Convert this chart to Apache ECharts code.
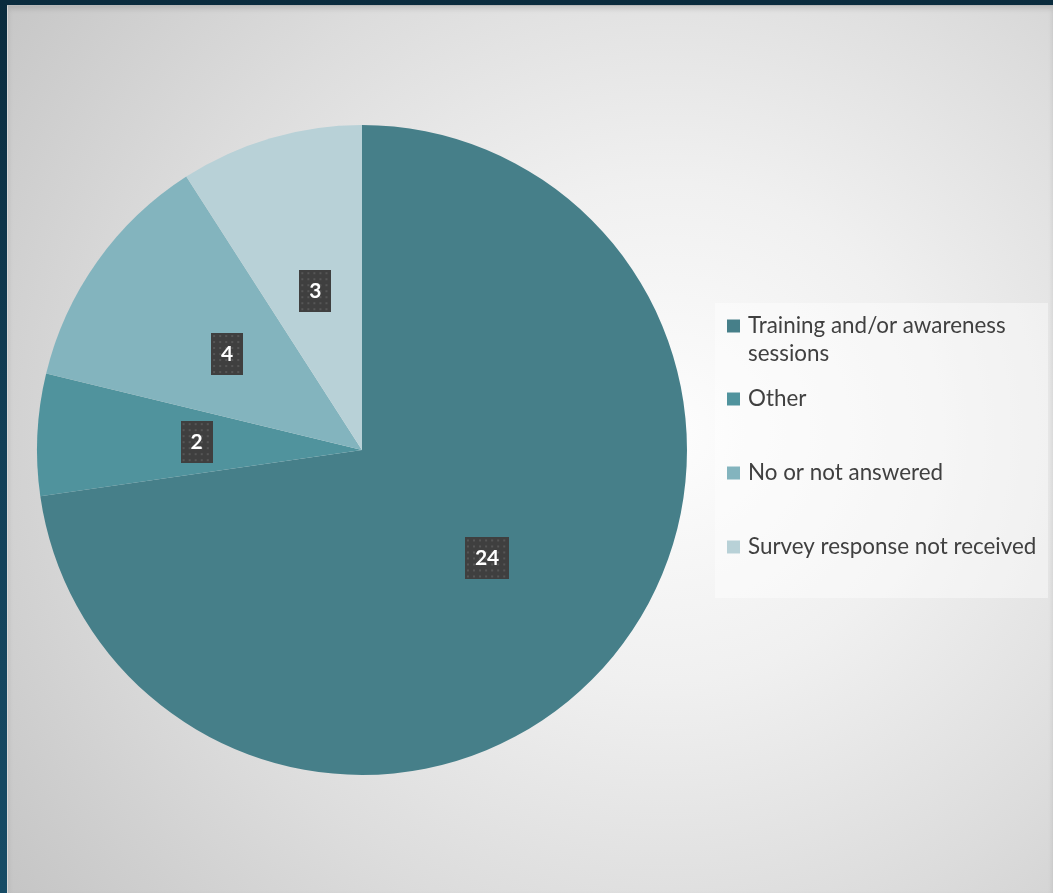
<!DOCTYPE html>
<html>
<head>
<meta charset="utf-8">
<script src="https://cdn.jsdelivr.net/npm/echarts@6/dist/echarts.min.js"></script>
<style>
  html, body { margin: 0; padding: 0; width: 1053px; height: 893px; overflow: hidden; }
  body { background: linear-gradient(to bottom, #0a2b3d 0%, #123f57 50%, #164b65 100%); }
  #chart {
    position: absolute; left: 7px; top: 5px; width: 1046px; height: 888px;
    box-sizing: border-box;
    border-left: 1px solid #d8d8d8; border-top: 1px solid #b8b8b8;
    background: radial-gradient(ellipse 820px 780px at 63% 48%, #fdfdfd 0%, #f0f0f0 32%, #dcdcdc 65%, #c5c5c5 100%);
    box-shadow: inset 0 3px 5px rgba(0,0,0,0.12);
  }
</style>
</head>
<body>
<div id="chart"></div>
<script>
// Responses by activity type
const categories = [
  'Training and/or awareness sessions',
  'Other',
  'No or not answered',
  'Survey response not received'
];
const counts = [24, 2, 4, 3];
const sliceColors = ['#467f89', '#50939d', '#83b4be', '#b8d1d7'];

// Dark dotted tile used behind each value label
const LABEL_FONT = 'bold 21px Lato';
const LABEL_PAD = [11, 10, 9, 10];
const LABEL_LINE = 22;
function dottedTile(text) {
  const m = document.createElement('canvas').getContext('2d');
  m.font = LABEL_FONT;
  const w = Math.round(m.measureText(text).width + LABEL_PAD[1] + LABEL_PAD[3]);
  const h = LABEL_LINE + LABEL_PAD[0] + LABEL_PAD[2];
  const c = document.createElement('canvas');
  c.width = w; c.height = h;
  const ctx = c.getContext('2d');
  ctx.fillStyle = '#3f3f3f';
  ctx.fillRect(0, 0, w, h);
  ctx.fillStyle = '#565656';
  for (let x = 2; x < w; x += 6) {
    for (let y = 2; y < h; y += 6) ctx.fillRect(x, y, 2, 2);
  }
  return c;
}

const pieData = categories.map((name, i) => ({
  name: name,
  value: counts[i],
  label: { backgroundColor: { image: dottedTile(String(counts[i])) } }
}));

// Legend entries: the wrapped first entry keeps its marker on the first line
const legendData = categories.map((name, i) =>
  i === 0 ? { name: name, textStyle: { padding: [28, 0, 0, 3] } } : { name: name }
);

const chart = echarts.init(document.getElementById('chart'), null, { renderer: 'canvas' });
chart.setOption({
  animation: false,
  color: sliceColors,
  graphic: [{
    type: 'rect', left: 707, top: 297, z: 1, silent: true,
    shape: { width: 333, height: 295 },
    style: { fill: 'rgba(255,255,255,0.42)' }
  }],
  legend: {
    orient: 'vertical',
    left: 719, top: 278,
    padding: 0,
    itemGap: -12,
    itemWidth: 13, itemHeight: 13,
    icon: 'rect',
    selectedMode: false,
    data: legendData,
    formatter: '{t|{name}}',
    textStyle: {
      fontFamily: 'Lato', fontSize: 22.4, lineHeight: 28, color: '#404040',
      backgroundColor: 'rgba(0,0,0,0)',
      padding: [29, 0, 29, 3],
      width: 300, overflow: 'break',
      rich: { t: { fontFamily: 'Lato', fontSize: 22.4, lineHeight: 28, color: '#404040' } }
    }
  },
  series: [{
    type: 'pie',
    center: [354, 444],
    radius: 325,
    startAngle: 90,
    clockwise: true,
    avoidLabelOverlap: false,
    silent: true,
    itemStyle: { borderWidth: 0 },
    label: {
      show: true,
      position: 'inside',
      formatter: '{c}',
      color: '#ffffff',
      fontFamily: 'Lato', fontWeight: 'bold', fontSize: 21, lineHeight: LABEL_LINE,
      padding: LABEL_PAD,
      shadowColor: 'rgba(0,0,0,0.5)', shadowBlur: 6, shadowOffsetX: 3, shadowOffsetY: 3
    },
    labelLine: { show: false },
    emphasis: { disabled: true },
    data: pieData
  }]
});
</script>
</body>
</html>
